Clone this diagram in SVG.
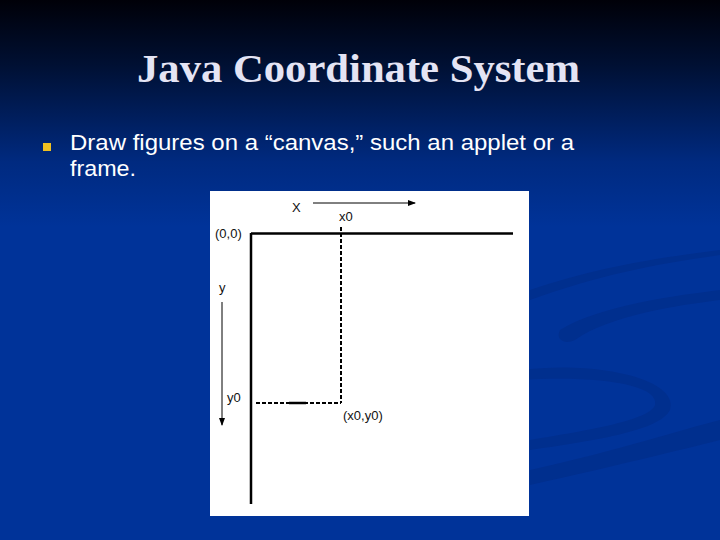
<svg xmlns="http://www.w3.org/2000/svg" width="720" height="540" viewBox="0 0 720 540">
<defs>
<linearGradient id="bg" x1="0" y1="0" x2="0" y2="1">
<stop offset="0" stop-color="#000008"/>
<stop offset="0.12" stop-color="#001033"/>
<stop offset="0.3" stop-color="#002a80"/>
<stop offset="0.42" stop-color="#003399"/>
<stop offset="1" stop-color="#003399"/>
</linearGradient>
<marker id="ah" markerWidth="8" markerHeight="6" refX="7" refY="3" orient="auto" markerUnits="userSpaceOnUse">
<path d="M0,0 L8,3 L0,6 z" fill="#000"/>
</marker>
<style>
.lbl{font-family:"Liberation Sans",Arial,sans-serif;font-size:13px;fill:#111}
.axis{stroke:#000;stroke-width:2.5;fill:none}
.dash{stroke:#000;stroke-width:2;stroke-dasharray:4,2;fill:none}
.thin{stroke:#000;stroke-width:1;fill:none}
.swoosh{fill:#002f8e}
.body{font-family:"Liberation Sans",Arial,sans-serif;font-size:22px;fill:#ffffff}
</style>
</defs>
<rect width="720" height="540" fill="url(#bg)"/>
<g id="swooshes">
<path class="swoosh" d="M560,330 C600,305 680,295 720,290 L720,300 C680,305 610,315 575,340 C565,345 555,340 560,330 z"/>
<path class="swoosh" d="M520,370 C600,360 680,380 670,410 C660,430 600,440 530,450 L530,440 C590,430 650,420 655,405 C660,385 600,375 520,380 z"/>
<path class="swoosh" d="M530,470 C620,450 680,430 720,420 L720,440 C680,450 620,465 530,485 z"/>
<path class="swoosh" d="M530,290 C590,270 640,260 720,250 L720,255 C650,265 600,275 530,300 z"/>
</g>
<g id="title">
<text x="137" y="82" textLength="443" lengthAdjust="spacingAndGlyphs" font-family="'Liberation Serif','Times New Roman',serif" font-weight="bold" font-size="40" fill="#e4e4f4">Java Coordinate System</text>
</g>
<g id="bullet">
<rect x="43" y="143" width="8" height="8" fill="#f0c020"/>
<text class="body" x="70" y="150" textLength="504" lengthAdjust="spacingAndGlyphs">Draw figures on a “canvas,” such an applet or a</text>
<text class="body" x="70" y="176" textLength="66" lengthAdjust="spacingAndGlyphs">frame.</text>
</g>
<g id="canvas">
<rect x="210" y="191" width="319" height="325" fill="#ffffff"/>
</g>
<g id="connectors">
<line class="axis" x1="251" y1="233.5" x2="513" y2="233.5"/>
<line class="axis" x1="251" y1="233" x2="251" y2="504"/>
<line class="dash" x1="341" y1="227" x2="341" y2="403"/>
<line class="dash" x1="256" y1="403" x2="341" y2="403"/>
<line stroke="#000" stroke-width="2.5" x1="289" y1="403" x2="306" y2="403"/>
<line class="thin" x1="313" y1="203" x2="415" y2="203" marker-end="url(#ah)"/>
<line class="thin" x1="222" y1="302" x2="222" y2="425" marker-end="url(#ah)"/>
</g>
<g id="labels">
<text class="lbl" x="292" y="212">X</text>
<text class="lbl" x="339" y="221">x0</text>
<text class="lbl" x="215" y="238">(0,0)</text>
<text class="lbl" x="219" y="292">y</text>
<text class="lbl" x="227" y="402">y0</text>
<text class="lbl" x="343" y="420">(x0,y0)</text>
</g>
</svg>
